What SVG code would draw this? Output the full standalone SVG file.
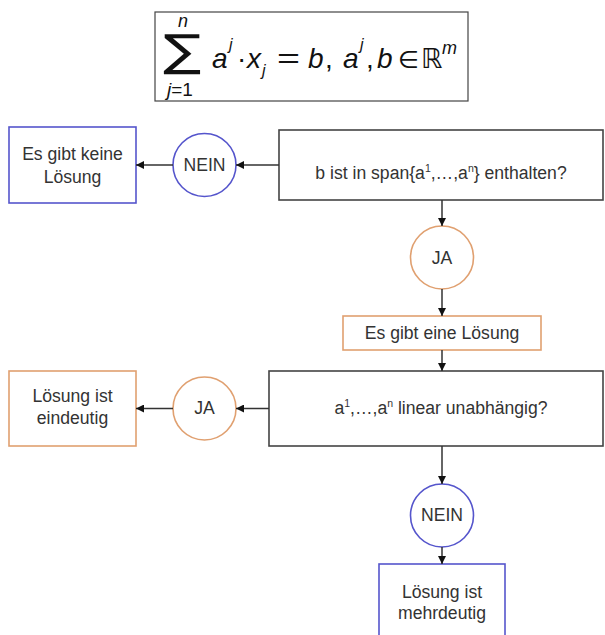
<svg xmlns="http://www.w3.org/2000/svg" width="605" height="635" viewBox="0 0 605 635">
<defs>
<marker id="arr" viewBox="0 0 10 10" refX="10" refY="5" markerWidth="8" markerHeight="8" markerUnits="userSpaceOnUse" orient="auto">
<path d="M0,0 L10,5 L0,10 z" fill="#111"/>
</marker>
</defs>
<style>
.lbl{font-family:"Liberation Sans",Arial,sans-serif;font-size:17.6px;fill:#333;text-anchor:middle}
.sup{font-size:10.5px}
.bx{fill:#fff;stroke:#444;stroke-width:1.6}
.blue{fill:#fff;stroke:#5555cc;stroke-width:1.6}
.orange{fill:#fff;stroke:#e0a070;stroke-width:1.6}
.conn{stroke:#333;stroke-width:1.5;fill:none;marker-end:url(#arr)}
.f{font-family:"Liberation Sans",Arial,sans-serif;fill:#111}
.fi{font-family:"Liberation Sans",Arial,sans-serif;font-style:italic;fill:#111}
.fm{font-family:"DejaVu Sans",sans-serif;fill:#111}
</style>
<rect width="605" height="635" fill="#fff"/>

<g id="formula">
<rect x="155" y="12" width="313" height="89" fill="#fff" stroke="#444" stroke-width="1.2"/>
<text class="fm" x="163" y="66" font-size="44" textLength="38" lengthAdjust="spacingAndGlyphs">∑</text>
<text class="fi" x="178" y="27" font-size="18">n</text>
<text class="f" x="167" y="96" font-size="19"><tspan font-style="italic">j</tspan>=1</text>
<text class="fi" x="212" y="68" font-size="28">a</text>
<text class="fi" x="229" y="50" font-size="16">j</text>
<text class="f" x="237" y="68" font-size="28">·</text>
<text class="fi" x="247" y="68" font-size="28">x</text>
<text class="fi" x="262" y="76" font-size="16">j</text>
<text class="f" x="277" y="68" font-size="28" textLength="23" lengthAdjust="spacingAndGlyphs">=</text>
<text class="fi" x="308" y="68" font-size="28">b</text>
<text class="f" x="325" y="68" font-size="28">,</text>
<text class="fi" x="343" y="68" font-size="28">a</text>
<text class="fi" x="360" y="50" font-size="16">j</text>
<text class="f" x="366" y="68" font-size="28">,</text>
<text class="fi" x="377" y="68" font-size="28">b</text>
<text class="fm" x="398" y="68" font-size="24">∈</text>
<text class="fm" x="421" y="68" font-size="27">ℝ</text>
<text class="fi" x="442" y="54" font-size="18">m</text>
</g>

<g id="q1">
<rect class="bx" x="279" y="130" width="324" height="70"/>
<text class="lbl" x="441" y="179">b ist in span{a<tspan class="sup" dy="-7">1</tspan><tspan dy="7">,…,a</tspan><tspan class="sup" dy="-7">n</tspan><tspan dy="7">} enthalten?</tspan></text>
</g>
<g id="nein1">
<circle class="blue" cx="204.5" cy="165" r="31.5"/>
<text class="lbl" x="204.5" y="171">NEIN</text>
</g>
<g id="keine">
<rect class="blue" x="9" y="127" width="127" height="76"/>
<text class="lbl" x="72.5" y="160">Es gibt keine</text>
<text class="lbl" x="72.5" y="183">Lösung</text>
</g>
<g id="ja1">
<circle class="orange" cx="442" cy="257.5" r="31.5"/>
<text class="lbl" x="442" y="264">JA</text>
</g>
<g id="eine">
<rect class="orange" x="343" y="316" width="198" height="34"/>
<text class="lbl" x="442" y="339">Es gibt eine Lösung</text>
</g>
<g id="q2">
<rect class="bx" x="269" y="371" width="334" height="75"/>
<text class="lbl" x="441" y="414">a<tspan class="sup" dy="-7">1</tspan><tspan dy="7">,…,a</tspan><tspan class="sup" dy="-7">n</tspan><tspan dy="7"> linear unabhängig?</tspan></text>
</g>
<g id="ja2">
<circle class="orange" cx="204.5" cy="408.5" r="31.5"/>
<text class="lbl" x="204.5" y="414">JA</text>
</g>
<g id="eindeutig">
<rect class="orange" x="9" y="371" width="127" height="75"/>
<text class="lbl" x="72.5" y="402">Lösung ist</text>
<text class="lbl" x="72.5" y="424">eindeutig</text>
</g>
<g id="nein2">
<circle class="blue" cx="442" cy="515.5" r="31.5"/>
<text class="lbl" x="442" y="521">NEIN</text>
</g>
<g id="mehrdeutig">
<rect class="blue" x="379" y="564" width="126" height="80"/>
<text class="lbl" x="442" y="598">Lösung ist</text>
<text class="lbl" x="442" y="619">mehrdeutig</text>
</g>

<g id="connectors">
<line class="conn" x1="279" y1="165" x2="236" y2="165"/>
<line class="conn" x1="173" y1="165" x2="136" y2="165"/>
<line class="conn" x1="442" y1="200" x2="442" y2="226"/>
<line class="conn" x1="442" y1="289" x2="442" y2="316"/>
<line class="conn" x1="442" y1="350" x2="442" y2="371"/>
<line class="conn" x1="269" y1="408.5" x2="236" y2="408.5"/>
<line class="conn" x1="173" y1="408.5" x2="136" y2="408.5"/>
<line class="conn" x1="442" y1="446" x2="442" y2="484"/>
<line class="conn" x1="442" y1="547" x2="442" y2="564"/>
</g>
</svg>
